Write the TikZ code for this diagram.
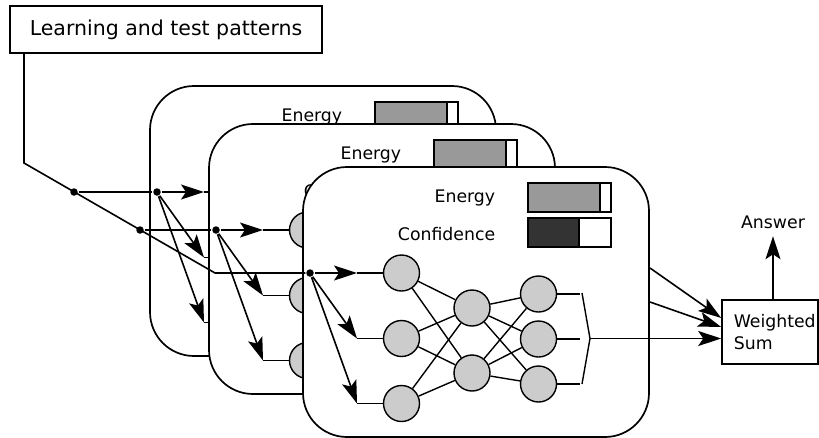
\documentclass[tikz,border=0pt]{standalone}
\usepackage{fontspec}
\setmainfont{DejaVu Sans}
\usetikzlibrary{arrows.meta}

\tikzset{
  panelbox/.style={draw, fill=white, line width=1.7pt, rounded corners=44pt},
  neuron/.style={circle, draw, fill=black!20, line width=1.4pt, minimum size=36pt, inner sep=0pt},
  dotnode/.style={circle, fill=black, minimum size=7.5pt, inner sep=0pt},
  barframe/.style={draw, line width=1.4pt},
  wire/.style={line width=1.4pt},
  lbl/.style={font=\fontsize{17.3}{22}\selectfont, inner sep=0pt},
  plainbox/.style={draw, line width=1.6pt, inner sep=0pt},
  tip/.style={-{Stealth[length=23pt,width=15pt,inset=5pt]}},
}

\begin{document}
\begin{tikzpicture}[x=1pt, y=-1pt, line width=1.6pt]
\useasboundingbox (0,0) rectangle (819,437);

% the three networks, back to front
\foreach \p/\px/\py in {a/150/86, b/209/124, c/303/167}{
\begin{scope}[shift={(\px,\py)}]
  \draw[panelbox] (0,0) rectangle (346,270);
  \node[lbl, anchor=base east] (\p-en) at (193,35) {Energy};
  \node[lbl, anchor=base east] (\p-cf) at (193,73) {Confidence};
  \fill[black!40] (225,16) rectangle (297,45);
  \draw[barframe] (225,16) rectangle (308,45) (297,16) -- (297,45);
  \fill[black!80] (225,51) rectangle (276,80);
  \draw[barframe] (225,51) rectangle (308,80) (276,51) -- (276,80);
  % layers
  \node[neuron] (\p-i1) at (98.5,106) {};
  \node[neuron] (\p-i2) at (98.5,171.5) {};
  \node[neuron] (\p-i3) at (98.5,236.5) {};
  \node[neuron] (\p-h1) at (169,141) {};
  \node[neuron] (\p-h2) at (169,206) {};
  \node[neuron] (\p-o1) at (235.5,127) {};
  \node[neuron] (\p-o2) at (235.5,172) {};
  \node[neuron] (\p-o3) at (235.5,217) {};
  \foreach \i in {1,2,3}
    \foreach \j in {1,2}
      \draw[wire] (\p-i\i) -- (\p-h\j) (\p-h\j) -- (\p-o\i);
  % inputs
  \node[dotnode] (\p-d) at (7,106) {};
  \coordinate (\p-a1) at (54,106);
  \coordinate (\p-a2) at (54,171.5);
  \coordinate (\p-a3) at (54,236.5);
  \foreach \i in {1,2,3}{
    \draw[tip] (\p-d) -- (\p-a\i);
    \draw[wire] (\p-a\i) -- (\p-i\i);
  }
  % outputs
  \coordinate (\p-s1) at (277,127);
  \coordinate (\p-s2) at (277,172);
  \coordinate (\p-s3) at (277,217);
  \foreach \i in {1,2,3}
    \draw[wire] (\p-o\i) -- (\p-s\i);
  \coordinate (\p-b1) at (279,126);
  \coordinate (\p-x) at (287,171.5);
  \coordinate (\p-b3) at (279,217);
  \draw[wire] (\p-b1) -- (\p-x) -- (\p-b3);
\end{scope}}

% patterns in
\node[plainbox, minimum width=312pt, minimum height=47pt, font=\fontsize{20.5}{24}\selectfont] (title) at (166,29.5) {Learning and test patterns};
\coordinate (bend) at (24,163);
\coordinate (join) at (215,273);
\node[dotnode] (m1) at (74,192) {};
\node[dotnode] (m2) at (140,230) {};
\draw (title.south -| bend) -- (bend) -- (join) -- (c-d);
\draw (m1) -- (a-d);
\draw (m2) -- (b-d);

% weighted sum
\node[plainbox, minimum width=96pt, minimum height=64pt] (wsum) at (770,332) {};
\node[lbl, anchor=west, align=left] (wtext) at (733,332) {Weighted\\Sum};
\node[lbl] (ans) at (773,222) {Answer};
\coordinate (a-out) at (650,268);
\coordinate (b-out) at (650,302);
\draw[tip] (a-out) -- ([yshift=14pt]wsum.west);
\draw[tip] (b-out) -- ([yshift=5pt]wsum.west);
\draw[tip] (c-x) -- (c-x -| wsum.west);
\draw[tip] (wsum.north -| ans) -- ([yshift=-7pt]ans.south);
\end{tikzpicture}
\end{document}
